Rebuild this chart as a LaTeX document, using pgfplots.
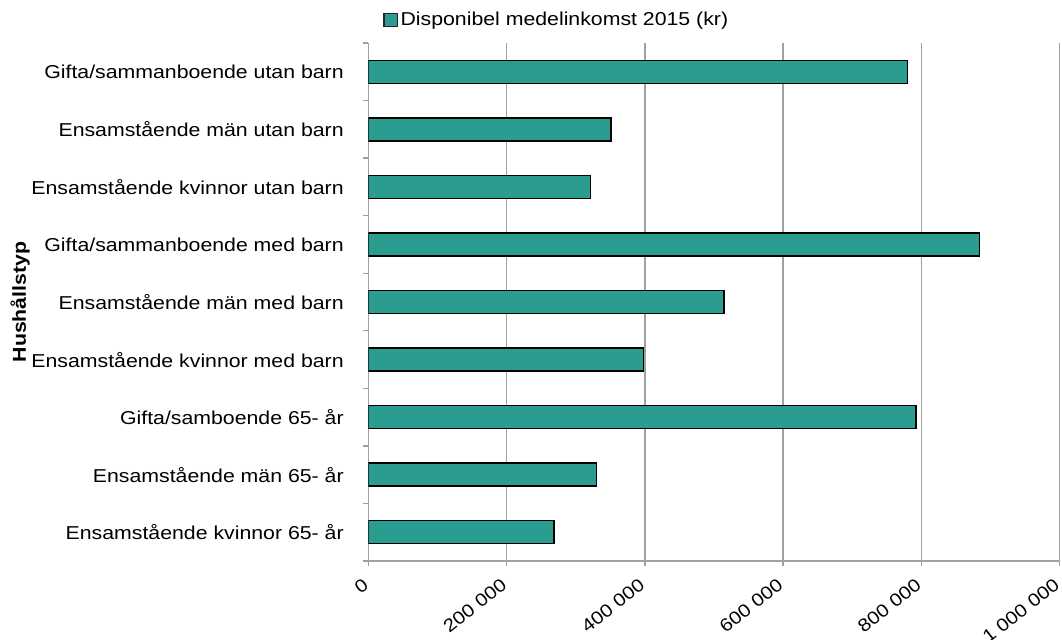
\documentclass[border=0pt]{standalone}
\usepackage{fontspec}
\setmainfont{Liberation Sans}[FakeStretch=1.14]
\usepackage{pgfplots}
\pgfplotsset{compat=1.18}
\definecolor{barteal}{RGB}{42,157,144}
\definecolor{gridgray}{RGB}{160,160,160}
\begin{document}
\fontsize{14}{16}\selectfont
\begin{tikzpicture}
\useasboundingbox (-276.375pt,-58.5pt) rectangle (520.125pt,420.75pt);
\begin{axis}[
  scale only axis,
  width=518.25pt, height=388.5pt,
  xbar, bar width=17.25pt,
  xmin=0, xmax=1000000,
  ymin=-0.5, ymax=8.5,
  y dir=reverse,
  scaled x ticks=false,
  xtick={0,200000,400000,600000,800000,1000000},
  xticklabels={0,200 000,400 000,600 000,800 000,1 000 000},
  ytick={0,1,2,3,4,5,6,7,8},
  yticklabels={Gifta/sammanboende utan barn,Ensamstående män utan barn,Ensamstående kvinnor utan barn,Gifta/sammanboende med barn,Ensamstående män med barn,Ensamstående kvinnor med barn,Gifta/samboende 65- år,Ensamstående män 65- år,Ensamstående kvinnor 65- år},
  minor ytick={-0.5,0.5,1.5,2.5,3.5,4.5,5.5,6.5,7.5,8.5},
  axis x line*=bottom, axis y line*=left,
  axis line style={draw=gridgray, line width=1.1pt, -},
  tick align=outside,
  major tick length=3.75pt, minor tick length=3.75pt,
  major y tick style={draw=none},
  minor y tick style={draw=gridgray, line width=1pt},
  major x tick style={draw=gridgray, line width=1pt},
  xmajorgrids, grid style={draw=gridgray, line width=1.1pt},
  tick label style={font=\fontsize{14}{16}\selectfont},
  yticklabel style={xshift=-10pt},
  xticklabel style={rotate=38, anchor=north east, yshift=1pt, xshift=-4.5pt, font=\fontsize{13.5}{15}\selectfont},
  ylabel={Hushållstyp},
  ylabel style={at={(axis description cs:-0.5043,0.5)}, anchor=center, font=\bfseries\fontsize{14}{16}\selectfont},
  legend style={draw=none, at={(axis description cs:0.273,1.044)}, anchor=center, font=\fontsize{14}{16}\selectfont, inner sep=0pt},
  legend image code/.code={\draw[fill=barteal, draw=black!85, line width=0.9pt] (0pt,-5pt) rectangle (10pt,5pt);},
]
\addplot[fill=barteal, draw=black, line width=1.1pt] coordinates {
  (779700,0) (351000,1) (321600,2) (884000,3) (514500,4) (397700,5) (792000,6) (329800,7) (268300,8)
};
\addlegendentry{Disponibel medelinkomst 2015 (kr)}
\end{axis}
\end{tikzpicture}
\end{document}
